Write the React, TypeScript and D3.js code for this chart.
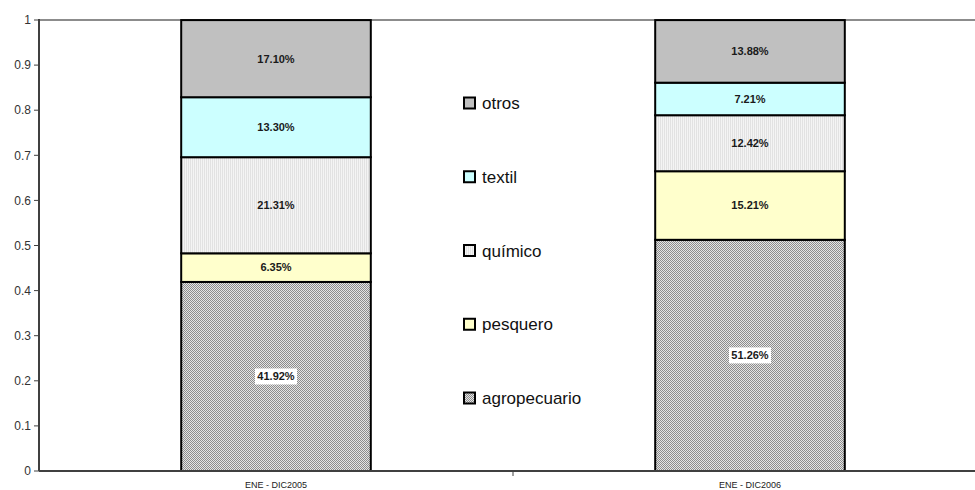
import React from "react";
import * as d3 from "d3";

const categories = ["ENE - DIC2005", "ENE - DIC2006"];
const seriesNames = ["agropecuario", "pesquero", "químico", "textil", "otros"];
const agropecuario = [0.4192, 0.5126];
const pesquero = [0.0635, 0.1521];
const quimico = [0.2131, 0.1242];
const textil = [0.133, 0.0721];
const otros = [0.171, 0.1388];
const labels = [
  ["41.92%", "51.26%"],
  ["6.35%", "15.21%"],
  ["21.31%", "12.42%"],
  ["13.30%", "7.21%"],
  ["17.10%", "13.88%"],
];
const yTicks = [0, 0.1, 0.2, 0.3, 0.4, 0.5, 0.6, 0.7, 0.8, 0.9, 1];
const legendOrder = ["otros", "textil", "químico", "pesquero", "agropecuario"];

const fills: Record<string, string> = {
  agropecuario: "url(#pat-agro)",
  pesquero: "#ffffcc",
  "químico": "url(#pat-quim)",
  textil: "#ccffff",
  otros: "#c0c0c0",
};

export default function App() {
  const width = 975;
  const height = 490;
  const margin = { top: 20, right: -12, bottom: 19, left: 39 };
  const values = [agropecuario, pesquero, quimico, textil, otros];

  const rows = categories.map((c, i) => {
    const r: Record<string, number | string> = { cat: c };
    seriesNames.forEach((s, j) => (r[s] = values[j][i]));
    return r;
  });
  const stacked = d3.stack<Record<string, number | string>>().keys(seriesNames)(rows as any);

  const x = d3
    .scaleBand()
    .domain(categories)
    .range([margin.left, width - margin.right])
    .paddingInner(0.6)
    .paddingOuter(0.3);
  const y = d3
    .scaleLinear()
    .domain([0, 1])
    .range([height - margin.bottom, margin.top]);

  const legendY = d3.scalePoint().domain(legendOrder).range([103, 398]);
  const xEnd = width - margin.right;

  return (
    <svg width={width} height={height} style={{ position: "absolute", left: 0, top: 0, background: "#fff" }}>
      <defs>
        <pattern id="pat-agro" width={2} height={2} patternUnits="userSpaceOnUse">
          <rect width={2} height={2} fill="#e4e4e4" />
          <rect width={1} height={1} fill="#8c8c8c" />
          <rect x={1} y={1} width={1} height={1} fill="#8c8c8c" />
        </pattern>
        <pattern id="pat-quim" width={2} height={2} patternUnits="userSpaceOnUse">
          <rect width={2} height={2} fill="#f4f4f4" />
          <rect width={1} height={2} fill="#e2e2e2" />
        </pattern>
      </defs>

      {/* top border */}
      <line x1={margin.left} x2={xEnd} y1={y(1)} y2={y(1)} stroke="#8c8c8c" strokeWidth={2} />

      {/* bars */}
      {stacked.map((layer) => (
        <g key={layer.key}>
          {layer.map((d, i) => (
            <rect
              key={i}
              x={x(categories[i])!}
              width={x.bandwidth()}
              y={y(d[1])}
              height={y(d[0]) - y(d[1])}
              fill={fills[layer.key]}
              stroke="#000"
              strokeWidth={2}
            />
          ))}
        </g>
      ))}

      {/* data labels */}
      {stacked.map((layer, li) =>
        layer.map((d, i) => {
          const cx = x(categories[i])! + x.bandwidth() / 2;
          const cy = (y(d[0]) + y(d[1])) / 2;
          const bg = layer.key === "agropecuario";
          return (
            <g key={layer.key + i}>
              {bg && <rect x={cx - 21} y={cy - 8} width={42} height={16} fill="#fff" />}
              <text
                x={cx}
                y={cy}
                dy="0.35em"
                textAnchor="middle"
                fontFamily="Liberation Sans, Arial, sans-serif"
                fontWeight="bold"
                fontSize={11}
                fill="#1a1a1a"
              >
                {labels[li][i]}
              </text>
            </g>
          );
        })
      )}

      {/* y axis */}
      <line x1={margin.left} x2={margin.left} y1={y(1) - 1} y2={y(0)} stroke="#404040" strokeWidth={2} />
      {yTicks.map((t) => (
        <g key={t}>
          <line x1={margin.left - 5} x2={margin.left} y1={y(t)} y2={y(t)} stroke="#404040" strokeWidth={1} />
          <text
            x={margin.left - 8}
            y={y(t)}
            dy="0.35em"
            textAnchor="end"
            fontFamily="Liberation Sans, Arial, sans-serif"
            fontSize={12}
            fill="#333"
          >
            {t}
          </text>
        </g>
      ))}

      {/* x axis */}
      <line x1={margin.left} x2={xEnd} y1={y(0)} y2={y(0)} stroke="#404040" strokeWidth={2} />
      <line
        x1={(margin.left + xEnd) / 2}
        x2={(margin.left + xEnd) / 2}
        y1={y(0)}
        y2={y(0) + 5}
        stroke="#404040"
        strokeWidth={1}
      />
      {categories.map((c) => (
        <text
          key={c}
          x={x(c)! + x.bandwidth() / 2}
          y={y(0) + 17}
          textAnchor="middle"
          fontFamily="Liberation Sans, Arial, sans-serif"
          fontSize={9}
          fill="#222"
        >
          {c}
        </text>
      ))}

      {/* legend */}
      {legendOrder.map((s) => (
        <g key={s} transform={`translate(464, ${legendY(s)})`}>
          <rect x={0} y={-5.5} width={11} height={11} fill={fills[s]} stroke="#000" strokeWidth={2} />
          <text
            x={18}
            y={0}
            dy="0.36em"
            fontFamily="Liberation Sans Narrow, Liberation Sans, Arial, sans-serif"
            fontSize={17}
            fill="#111"
          >
            {s}
          </text>
        </g>
      ))}
    </svg>
  );
}
